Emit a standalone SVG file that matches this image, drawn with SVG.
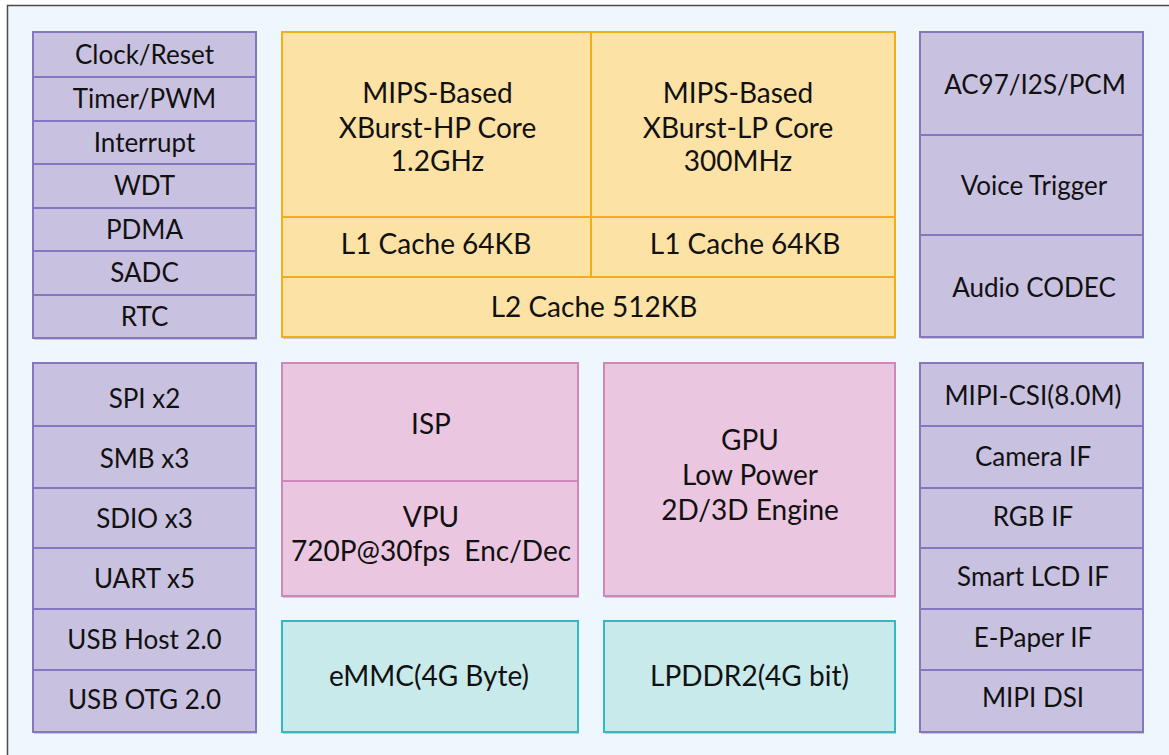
<svg xmlns="http://www.w3.org/2000/svg" width="1169" height="755" viewBox="0 0 1169 755">
<style>
text{font-family:Lato,"Open Sans","Liberation Sans",sans-serif;font-size:26px;fill:#111111;text-anchor:middle}
text.c{font-size:28px}
.pu{fill:#c9c1e0;stroke:#8676bf;stroke-width:2}
.or{fill:#fde2a5;stroke:#f1ae1c;stroke-width:2}
.pk{fill:#ebc6e0;stroke:#cf86bb;stroke-width:2}
.tl{fill:#c8eaea;stroke:#36b8c0;stroke-width:2}
.sh{fill:#c5cad0}
</style>
<rect x="0" y="0" width="1169" height="755" fill="#ffffff"/>
<rect x="7.5" y="5.5" width="1180" height="770" fill="#eff7fe" stroke="#4a4a4a" stroke-width="1.5"/>
<g id="shadows">
<rect class="sh" x="34" y="34" width="223" height="306"/>
<rect class="sh" x="34" y="365" width="223" height="369"/>
<rect class="sh" x="283" y="34" width="613" height="305"/>
<rect class="sh" x="921" y="34" width="223" height="305"/>
<rect class="sh" x="921" y="365" width="223" height="369"/>
<rect class="sh" x="283" y="365" width="296" height="233"/>
<rect class="sh" x="605" y="365" width="291" height="233"/>
<rect class="sh" x="283" y="623" width="296" height="111"/>
<rect class="sh" x="605" y="623" width="291" height="111"/>
</g>
<g id="connectors"></g>
<g id="sys-left">
<g id="clock"><rect class="pu" x="33" y="32" width="223" height="45"/><text x="144.5" y="64">Clock/Reset</text></g>
<g id="timer"><rect class="pu" x="33" y="77" width="223" height="44"/><text x="144.5" y="108">Timer/PWM</text></g>
<g id="interrupt"><rect class="pu" x="33" y="121" width="223" height="43"/><text x="144.5" y="152">Interrupt</text></g>
<g id="wdt"><rect class="pu" x="33" y="164" width="223" height="44"/><text x="144.5" y="195">WDT</text></g>
<g id="pdma"><rect class="pu" x="33" y="208" width="223" height="43"/><text x="144.5" y="239">PDMA</text></g>
<g id="sadc"><rect class="pu" x="33" y="251" width="223" height="44"/><text x="144.5" y="282">SADC</text></g>
<g id="rtc"><rect class="pu" x="33" y="295" width="223" height="43"/><text x="144.5" y="326">RTC</text></g>
</g>
<g id="io-left">
<g id="spi"><rect class="pu" x="33" y="363" width="223" height="63"/><text x="144.5" y="408">SPI x2</text></g>
<g id="smb"><rect class="pu" x="33" y="426" width="223" height="62"/><text x="144.5" y="468">SMB x3</text></g>
<g id="sdio"><rect class="pu" x="33" y="488" width="223" height="60"/><text x="144.5" y="528">SDIO x3</text></g>
<g id="uart"><rect class="pu" x="33" y="548" width="223" height="61"/><text x="144.5" y="588">UART x5</text></g>
<g id="usbhost"><rect class="pu" x="33" y="609" width="223" height="61"/><text x="144.5" y="649">USB Host 2.0</text></g>
<g id="usbotg"><rect class="pu" x="33" y="670" width="223" height="62"/><text x="144.5" y="709">USB OTG 2.0</text></g>
</g>
<g id="cpu">
<g id="hp-core"><rect class="or" x="282" y="32" width="309" height="185"/><text class="c" x="437.5" y="103">MIPS-Based</text><text class="c" x="437.5" y="138">XBurst-HP Core</text><text class="c" x="437.5" y="171">1.2GHz</text></g>
<g id="lp-core"><rect class="or" x="591" y="32" width="304" height="185"/><text class="c" x="738" y="103">MIPS-Based</text><text class="c" x="738" y="138">XBurst-LP Core</text><text class="c" x="738" y="171">300MHz</text></g>
<g id="l1-hp"><rect class="or" x="282" y="217" width="309" height="60"/><text class="c" x="436" y="254">L1 Cache 64KB</text></g>
<g id="l1-lp"><rect class="or" x="591" y="217" width="304" height="60"/><text class="c" x="745" y="254">L1 Cache 64KB</text></g>
<g id="l2"><rect class="or" x="282" y="277" width="613" height="60"/><text class="c" x="594" y="317">L2 Cache 512KB</text></g>
</g>
<g id="audio">
<g id="ac97"><rect class="pu" x="920" y="32" width="223" height="103"/><text x="1035" y="94">AC97/I2S/PCM</text></g>
<g id="voice"><rect class="pu" x="920" y="135" width="223" height="100"/><text x="1034" y="195">Voice Trigger</text></g>
<g id="codec"><rect class="pu" x="920" y="235" width="223" height="102"/><text x="1034" y="297">Audio CODEC</text></g>
</g>
<g id="display">
<g id="csi"><rect class="pu" x="920" y="363" width="223" height="63"/><text x="1033" y="405">MIPI-CSI(8.0M)</text></g>
<g id="camera"><rect class="pu" x="920" y="426" width="223" height="62"/><text x="1033" y="466">Camera IF</text></g>
<g id="rgb"><rect class="pu" x="920" y="488" width="223" height="60"/><text x="1033" y="526">RGB IF</text></g>
<g id="smartlcd"><rect class="pu" x="920" y="548" width="223" height="61"/><text x="1033" y="586">Smart LCD IF</text></g>
<g id="epaper"><rect class="pu" x="920" y="609" width="223" height="61"/><text x="1033" y="647">E-Paper IF</text></g>
<g id="dsi"><rect class="pu" x="920" y="670" width="223" height="62"/><text x="1033" y="707">MIPI DSI</text></g>
</g>
<g id="isp"><rect class="pk" x="282" y="363" width="296" height="118"/><text class="c" x="431" y="434">ISP</text></g>
<g id="vpu"><rect class="pk" x="282" y="481" width="296" height="115"/><text class="c" x="431" y="527">VPU</text><text class="c" x="431" y="561" xml:space="preserve">720P@30fps  Enc/Dec</text></g>
<g id="gpu"><rect class="pk" x="604" y="363" width="291" height="233"/><text class="c" x="750" y="450">GPU</text><text class="c" x="750" y="485">Low Power</text><text class="c" x="750" y="520">2D/3D Engine</text></g>
<g id="emmc"><rect class="tl" x="282" y="621" width="296" height="111"/><text class="c" x="429" y="686">eMMC(4G Byte)</text></g>
<g id="lpddr"><rect class="tl" x="604" y="621" width="291" height="111"/><text class="c" x="749.5" y="686">LPDDR2(4G bit)</text></g>
</svg>
